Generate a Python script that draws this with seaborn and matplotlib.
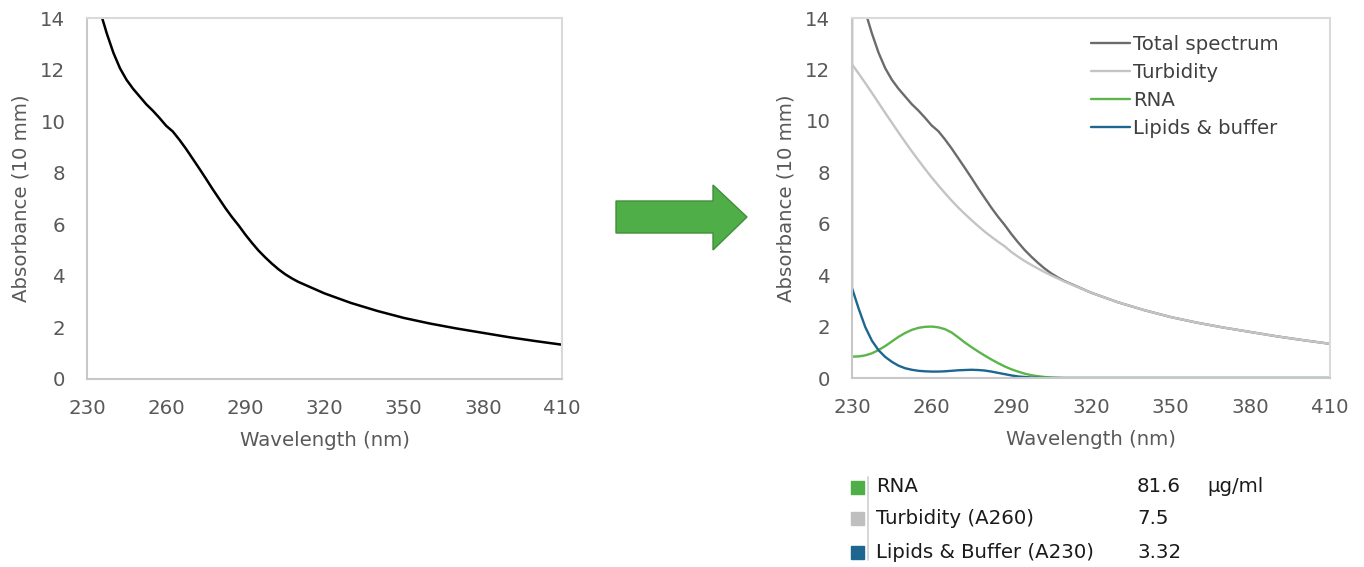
import numpy as np
import pandas as pd
import matplotlib
matplotlib.use('Agg')
import matplotlib.pyplot as plt
import matplotlib.patches as mpatches
import seaborn as sns

# wavelength grid (nm): 2.5 nm steps up to 310, then 10 nm
wavelength = [230, 232.5, 235, 237.5, 240, 242.5, 245, 247.5, 250, 252.5, 255, 257.5,
              260, 262.5, 265, 267.5, 270, 272.5, 275, 277.5, 280, 282.5, 285, 287.5,
              290, 292.5, 295, 297.5, 300, 302.5, 305, 307.5, 310,
              320, 330, 340, 350, 360, 370, 380, 390, 400, 410]

# measured total spectrum (off scale below 235)
total = [16.5, 15.3, 14.25, 13.4, 12.65, 12.05, 11.6, 11.25, 10.95, 10.65, 10.4, 10.12,
         9.82, 9.6, 9.28, 8.93, 8.55, 8.17, 7.78, 7.38, 7.0, 6.62, 6.27, 5.95,
         5.6, 5.28, 4.98, 4.72, 4.48, 4.26, 4.07, 3.91, 3.77,
         3.32, 2.95, 2.64, 2.37, 2.15, 1.96, 1.79, 1.62, 1.47, 1.33]

turbidity = [12.2, 11.84, 11.47, 11.09, 10.7, 10.31, 9.93, 9.55, 9.18, 8.82, 8.47, 8.13,
             7.8, 7.49, 7.19, 6.9, 6.63, 6.38, 6.14, 5.91, 5.69, 5.49, 5.3, 5.12,
             4.9, 4.72, 4.55, 4.4, 4.26, 4.12, 3.99, 3.87, 3.75,
             3.32, 2.95, 2.64, 2.37, 2.15, 1.96, 1.79, 1.62, 1.47, 1.33]

rna = [0.83, 0.84, 0.88, 0.96, 1.09, 1.24, 1.42, 1.6, 1.75, 1.87, 1.95, 1.99,
       2.0, 1.97, 1.9, 1.77, 1.58, 1.38, 1.2, 1.03, 0.87, 0.72, 0.58, 0.45,
       0.34, 0.25, 0.17, 0.11, 0.07, 0.04, 0.02, 0.01, 0.0,
       0.0, 0.0, 0.0, 0.0, 0.0, 0.0, 0.0, 0.0, 0.0, 0.0]

lipids = [3.5, 2.7, 1.98, 1.45, 1.08, 0.82, 0.63, 0.48, 0.38, 0.32, 0.28, 0.26,
          0.25, 0.25, 0.26, 0.28, 0.3, 0.31, 0.32, 0.31, 0.29, 0.25, 0.2, 0.15,
          0.1, 0.06, 0.04, 0.02, 0.01, 0.0, 0.0, 0.0, 0.0,
          0.0, 0.0, 0.0, 0.0, 0.0, 0.0, 0.0, 0.0, 0.0, 0.0]

# the total trace in the right panel starts from the lipid value at 230
total_start = 3.5

series_names = ['Total spectrum', 'Turbidity', 'RNA', 'Lipids & buffer']
series_colors = ['#6b6b6b', '#c4c4c4', '#5cb54a', '#1c6690']

table_labels = ['RNA', 'Turbidity (A260)', 'Lipids & Buffer (A230)']
table_values = ['81.6', '7.5', '3.32']
table_units = ['µg/ml', '', '']
table_colors = ['#4fae48', '#bfbfbf', '#1c6690']

xticks = [230, 260, 290, 320, 350, 380, 410]
yticks = [0, 2, 4, 6, 8, 10, 12, 14]

sns.set_style('white')
plt.rcParams['font.family'] = ['DejaVu Sans']

FS = 14.2
TICK_C = '#595959'

fig = plt.figure(figsize=(13.64, 5.67), dpi=100)
W, H = 1364, 567


def px_axes(x0, x1, y0, y1):
    return fig.add_axes([x0 / W, 1 - y1 / H, (x1 - x0) / W, (y1 - y0) / H])


def style_axes(ax):
    ax.set_xlim(230, 410)
    ax.set_ylim(0, 14)
    ax.set_xticks(xticks)
    ax.set_yticks(yticks)
    ax.tick_params(axis='both', direction='out', length=6.5, width=1.2,
                   color='#c8c8c8', labelcolor=TICK_C, labelsize=FS, pad=8)
    ax.tick_params(axis='y', pad=9)
    ax.set_xlabel('Wavelength (nm)', fontsize=FS, color=TICK_C, labelpad=9)
    ax.set_ylabel('Absorbance (10 mm)', fontsize=FS, color=TICK_C, labelpad=7)
    for side in ['left', 'bottom']:
        ax.spines[side].set_color('#c8c8c8')
        ax.spines[side].set_linewidth(1.5)
    for side in ['top', 'right']:
        ax.spines[side].set_color('#dadada')
        ax.spines[side].set_linewidth(1.5)
    ax.set_facecolor('white')


# left panel: raw spectrum
ax1 = px_axes(87, 562, 18, 379)
df_left = pd.DataFrame({'Wavelength': wavelength, 'Absorbance': total})
sns.lineplot(data=df_left, x='Wavelength', y='Absorbance', color='black',
             linewidth=1.8, ax=ax1)
style_axes(ax1)

# right panel: decomposition
ax2 = px_axes(852, 1330, 18, 378)
curves = [[total_start] + total, turbidity, rna, lipids]
xs = [[wavelength[0]] + wavelength, wavelength, wavelength, wavelength]
for name, xv, yv, c in zip(series_names, xs, curves, series_colors):
    d = pd.DataFrame({'Wavelength': xv, 'Absorbance': yv})
    sns.lineplot(data=d, x='Wavelength', y='Absorbance', color=c, linewidth=1.7,
                 ax=ax2, label=name, sort=False, estimator=None)
style_axes(ax2)
leg = ax2.legend(loc='upper left', bbox_to_anchor=(0.5, 0.952), frameon=False,
                 fontsize=FS, handlelength=2.0, handletextpad=0.12,
                 labelspacing=0.45, borderpad=0, borderaxespad=0)
for t in leg.get_texts():
    t.set_color('#404040')

# arrow between panels
arrow_px = [(616, 201), (713, 201), (713, 185), (747, 217),
            (713, 250), (713, 233), (616, 233)]
arrow = mpatches.Polygon([(x / W, 1 - y / H) for x, y in arrow_px], closed=True,
                         transform=fig.transFigure, facecolor='#4fae48',
                         edgecolor='#3f8f3a', linewidth=1)
fig.patches.append(arrow)

# result table
row_y = [487, 518.5, 552.5]
for lab, val, unit, col, y in zip(table_labels, table_values, table_units,
                                  table_colors, row_y):
    fig.patches.append(mpatches.Rectangle((851 / W, 1 - (y + 6.5) / H), 13 / W, 13 / H,
                                          transform=fig.transFigure, color=col))
    fig.text(876 / W, 1 - y / H, lab, fontsize=FS, color='#1a1a1a', va='center')
    fig.text(1137 / W, 1 - y / H, val, fontsize=FS, color='#1a1a1a', va='center')
    if unit:
        fig.text(1207 / W, 1 - y / H, unit, fontsize=FS, color='#1a1a1a', va='center')
fig.add_artist(plt.Line2D([868 / W, 868 / W], [1 - 477 / H, 1 - 560 / H],
                          color='#d0d0d0', linewidth=1.2))

fig.savefig('out.png', dpi=100, facecolor='white')
